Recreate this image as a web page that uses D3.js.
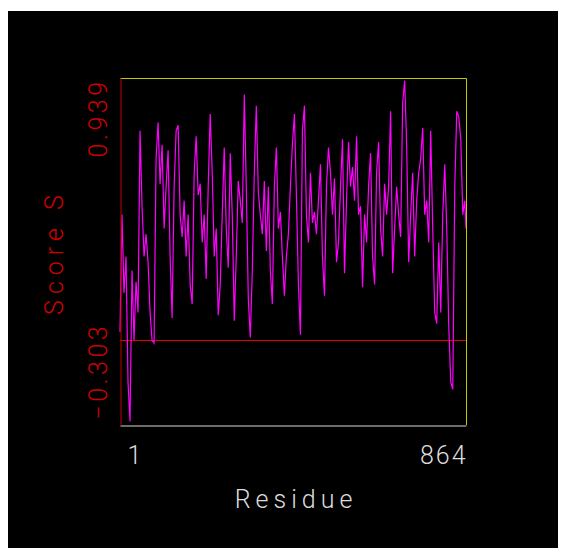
<!DOCTYPE html>
<html>
<head>
<meta charset="utf-8">
<script src="https://cdn.jsdelivr.net/npm/d3@7"></script>
<style>
  html, body { margin: 0; padding: 0; background: #fff; }
  .lbl { font-family: Roboto, "DejaVu Sans", sans-serif; font-weight: 300; }
</style>
</head>
<body>
<div class="chart"></div>
<script>
// residue positions (every 5th residue, last one is 864)
var residues = [1, 6, 11, 16, 21, 26, 31, 36, 41, 46, 51, 56, 61, 66, 71, 76, 81, 86, 91, 96,
  101, 106, 111, 116, 121, 126, 131, 136, 141, 146, 151, 156, 161, 166, 171, 176, 181, 186, 191, 196,
  201, 206, 211, 216, 221, 226, 231, 236, 241, 246, 251, 256, 261, 266, 271, 276, 281, 286, 291, 296,
  301, 306, 311, 316, 321, 326, 331, 336, 341, 346, 351, 356, 361, 366, 371, 376, 381, 386, 391, 396,
  401, 406, 411, 416, 421, 426, 431, 436, 441, 446, 451, 456, 461, 466, 471, 476, 481, 486, 491, 496,
  501, 506, 511, 516, 521, 526, 531, 536, 541, 546, 551, 556, 561, 566, 571, 576, 581, 586, 591, 596,
  601, 606, 611, 616, 621, 626, 631, 636, 641, 646, 651, 656, 661, 666, 671, 676, 681, 686, 691, 696,
  701, 706, 711, 716, 721, 726, 731, 736, 741, 746, 751, 756, 761, 766, 771, 776, 781, 786, 791, 796,
  801, 806, 811, 816, 821, 826, 831, 836, 841, 846, 851, 856, 861, 864];

var scores = [0.03, 0.45, 0.17, 0.30, -0.15, -0.29, 0.25, 0.00, 0.21, 0.10,
  0.75, 0.48, 0.30, 0.38, 0.28, 0.10, 0.00, -0.01, 0.65, 0.78,
  0.56, 0.70, 0.40, 0.55, 0.68, 0.30, 0.08, 0.55, 0.75, 0.77,
  0.45, 0.37, 0.50, 0.30, 0.45, 0.20, 0.13, 0.60, 0.73, 0.52,
  0.56, 0.35, 0.45, 0.22, 0.55, 0.81, 0.60, 0.30, 0.40, 0.09,
  0.20, 0.45, 0.69, 0.40, 0.26, 0.67, 0.45, 0.07, 0.30, 0.57,
  0.50, 0.42, 0.88, 0.55, 0.15, 0.01, 0.25, 0.60, 0.84, 0.53,
  0.45, 0.38, 0.57, 0.32, 0.55, 0.25, 0.13, 0.55, 0.69, 0.40,
  0.46, 0.30, 0.16, 0.30, 0.38, 0.55, 0.70, 0.81, 0.52, 0.20,
  0.02, 0.75, 0.84, 0.45, 0.35, 0.60, 0.42, 0.46, 0.38, 0.50,
  0.63, 0.30, 0.16, 0.55, 0.69, 0.60, 0.45, 0.58, 0.28, 0.35,
  0.55, 0.72, 0.24, 0.50, 0.71, 0.55, 0.62, 0.50, 0.73, 0.45,
  0.48, 0.19, 0.45, 0.35, 0.55, 0.67, 0.30, 0.20, 0.60, 0.71,
  0.40, 0.30, 0.56, 0.45, 0.55, 0.82, 0.24, 0.40, 0.55, 0.45,
  0.37, 0.85, 0.93, 0.70, 0.28, 0.45, 0.60, 0.30, 0.50, 0.60,
  0.65, 0.76, 0.45, 0.50, 0.35, 0.75, 0.40, 0.10, 0.06, 0.35,
  0.10, 0.45, 0.63, 0.40, 0.05, -0.15, -0.175, 0.55, 0.82, 0.80,
  0.72, 0.45, 0.50, 0.40];

var xTicks = [1, 864];
var yTicks = [-0.303, 0.939];

var W = 566, H = 556;
var margin = {top: 78, right: 100, bottom: 131, left: 120};
var width = W - margin.left - margin.right;
var height = H - margin.top - margin.bottom;

var data = residues.map((r, i) => ({residue: r, score: scores[i]}));

var xScale = d3.scaleLinear().domain([1, 864]).range([0, width]);
var yScale = d3.scaleLinear().domain([-0.303, 0.939]).range([height, 0]);

var root = d3.select('.chart').append('svg')
    .attr('width', W)
    .attr('height', H);

root.append('rect')
    .attr('x', 8).attr('y', 11)
    .attr('width', 550).attr('height', 537)
    .attr('fill', '#000');

var svg = root.append('g')
    .attr('transform', `translate(${margin.left},${margin.top})`);

// zero line
svg.append('line')
    .attr('x1', 0).attr('x2', width)
    .attr('y1', Math.round(yScale(0)) + 0.5).attr('y2', Math.round(yScale(0)) + 0.5)
    .attr('stroke', '#e00000').attr('stroke-width', 1);

// the score trace
var line = d3.line()
    .x(d => xScale(d.residue))
    .y(d => yScale(d.score));

svg.append('path')
    .datum(data)
    .attr('fill', 'none')
    .attr('stroke', '#ff00ff')
    .attr('stroke-width', 1.2)
    .attr('d', line);

// frame: top + right yellow
svg.append('path')
    .attr('d', `M0.5,0.5H${width + 0.5}V${height}`)
    .attr('fill', 'none')
    .attr('stroke', '#c8c800')
    .attr('stroke-width', 1);

// x axis
var xAxis = svg.append('g')
    .attr('class', 'axis axis--x')
    .attr('transform', `translate(0,${height + 0.5})`)
    .call(d3.axisBottom(xScale).tickValues(xTicks).tickSize(0).tickFormat(d3.format('d')));
xAxis.select('.domain').attr('stroke', '#d8d8d8').attr('stroke-width', 1);
xAxis.selectAll('text')
    .attr('class', 'lbl')
    .attr('fill', '#dcdcdc')
    .attr('font-size', 25)
    .attr('letter-spacing', 2)
    .attr('dy', null)
    .attr('y', 38)
    .attr('text-anchor', (d, i) => i === 0 ? 'start' : 'end')
    .attr('dx', (d, i) => i === 0 ? 7 : 1);

// y axis
var yAxis = svg.append('g')
    .attr('class', 'axis axis--y')
    .attr('transform', 'translate(0.5,0)')
    .call(d3.axisLeft(yScale).tickValues(yTicks).tickSize(0).tickFormat(d3.format('.3f')));
yAxis.select('.domain').attr('stroke', '#c00000').attr('stroke-width', 1);
yAxis.selectAll('text')
    .attr('class', 'lbl')
    .attr('fill', '#d00000')
    .attr('font-size', 25)
    .attr('x', null).attr('dy', null).attr('dx', null)
    .attr('letter-spacing', 3.5)
    .attr('text-anchor', (d, i) => i === 0 ? 'start' : 'end')
    .attr('transform', (d, i) => i === 0 ? 'translate(-14,-6) rotate(-90)' : 'translate(-14,0) rotate(-90)');

// axis titles
root.append('text')
    .attr('class', 'lbl')
    .attr('x', 296).attr('y', 508)
    .attr('text-anchor', 'middle')
    .attr('fill', '#dcdcdc')
    .attr('font-size', 25)
    .attr('letter-spacing', 5)
    .text('Residue');

root.append('text')
    .attr('class', 'lbl')
    .attr('transform', 'translate(63,252) rotate(-90)')
    .attr('text-anchor', 'middle')
    .attr('fill', '#d00000')
    .attr('font-size', 25)
    .attr('letter-spacing', 6)
    .text('Score S');
</script>
</body>
</html>
